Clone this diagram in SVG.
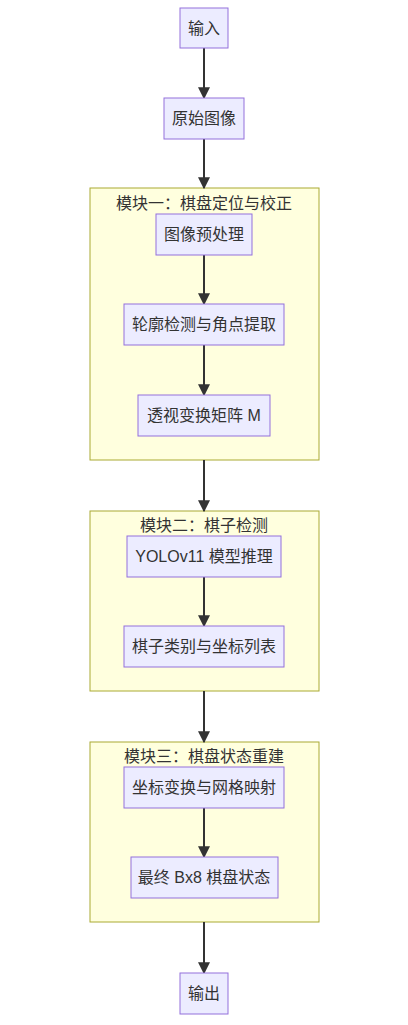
<svg xmlns="http://www.w3.org/2000/svg" width="408" height="1025" viewBox="0 0 408 1025">
<style>
.node rect{fill:#ECECFF;stroke:#9370DB;stroke-width:1px}
.cluster rect{fill:#ffffde;stroke:#aaaa33;stroke-width:1px}
text{font-family:"Liberation Sans","Noto Sans CJK SC",sans-serif;font-size:16px;fill:#333;text-anchor:middle;dominant-baseline:central}
.edge{stroke:#333;stroke-width:2;fill:none;marker-end:url(#arrow)}
</style>
<defs>
<marker id="arrow" viewBox="0 0 10 10" refX="9" refY="5" markerUnits="userSpaceOnUse" markerWidth="12" markerHeight="12" orient="auto">
<path d="M0,0L10,5L0,10z" fill="#333"/>
</marker>
</defs>
<g id="cluster1" class="cluster"><rect x="90" y="188" width="229" height="272"/><text x="204" y="203">模块一：棋盘定位与校正</text></g>
<g id="cluster2" class="cluster"><rect x="90" y="511" width="229" height="180"/><text x="204" y="525">模块二：棋子检测</text></g>
<g id="cluster3" class="cluster"><rect x="90" y="742" width="229" height="180"/><text x="204" y="756">模块三：棋盘状态重建</text></g>
<g id="edges">
<path class="edge" d="M204,48V98"/>
<path class="edge" d="M204,139V188"/>
<path class="edge" d="M204,255V304"/>
<path class="edge" d="M204,345V395"/>
<path class="edge" d="M204,460V511"/>
<path class="edge" d="M204,577V626"/>
<path class="edge" d="M204,691V742"/>
<path class="edge" d="M204,808V857"/>
<path class="edge" d="M204,922V973"/>
</g>
<g id="n_input" class="node"><rect x="180" y="8" width="48" height="40"/><text x="204" y="28">输入</text></g>
<g id="n_raw" class="node"><rect x="164" y="98" width="80" height="41"/><text x="204" y="118.5">原始图像</text></g>
<g id="n_pre" class="node"><rect x="156" y="214" width="96" height="41"/><text x="204" y="234.5">图像预处理</text></g>
<g id="n_contour" class="node"><rect x="124" y="304" width="160" height="41"/><text x="204" y="324.5">轮廓检测与角点提取</text></g>
<g id="n_persp" class="node"><rect x="138" y="395" width="132" height="41"/><text x="204" y="415.5">透视变换矩阵 M</text></g>
<g id="n_yolo" class="node"><rect x="127" y="536" width="154" height="41"/><text x="204" y="556.5">YOLOv11 模型推理</text></g>
<g id="n_list" class="node"><rect x="124" y="626" width="160" height="41"/><text x="204" y="646.5">棋子类别与坐标列表</text></g>
<g id="n_map" class="node"><rect x="124" y="767" width="160" height="41"/><text x="204" y="787.5">坐标变换与网格映射</text></g>
<g id="n_final" class="node"><rect x="131" y="857" width="147" height="41"/><text x="204" y="877.5">最终 Bx8 棋盘状态</text></g>
<g id="n_output" class="node"><rect x="180" y="973" width="48" height="41"/><text x="204" y="993.5">输出</text></g>
</svg>
